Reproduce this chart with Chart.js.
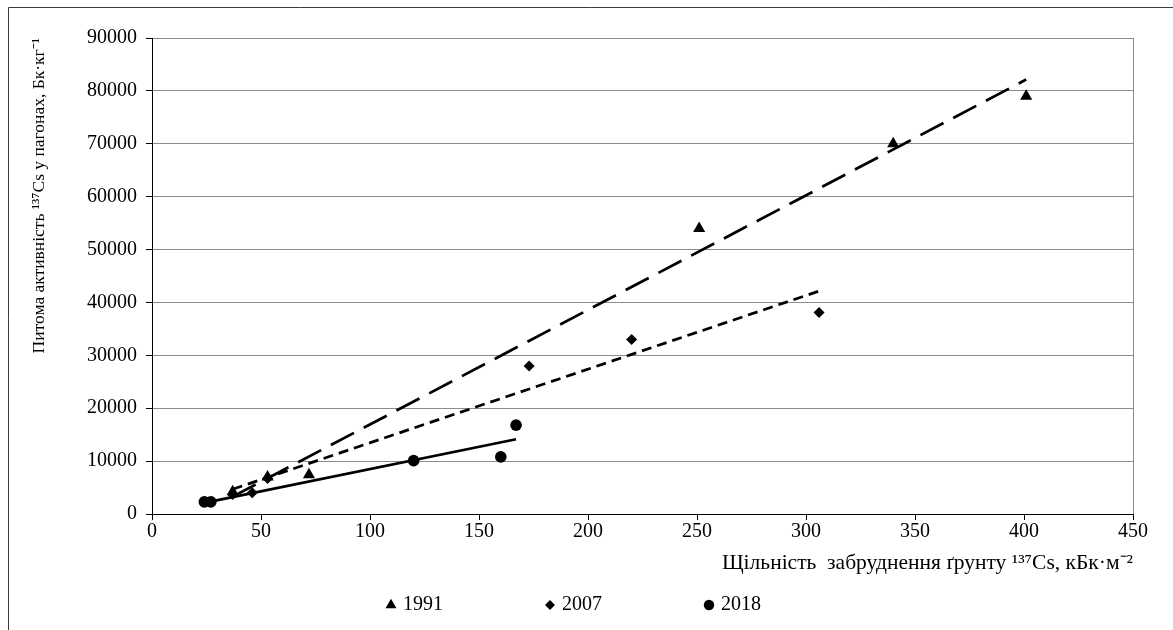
<!DOCTYPE html>
<html>
<head>
<meta charset="utf-8">
<script src="https://cdn.jsdelivr.net/npm/chart.js@4/dist/chart.umd.min.js"></script>
<style>
  html, body { margin: 0; padding: 0; background: #fff; }
  #wrap { width: 1173px; height: 630px; position: relative; }
</style>
</head>
<body>
<div id="wrap"><canvas id="chart" width="1173" height="630"></canvas></div>
<script>
// Soil contamination density with 137Cs (kBq/m2) against specific activity in shoots (Bq/kg)
const years = ['1991', '2007', '2018'];

const density1991  = [37, 53, 72, 251, 340, 401];
const activity1991 = [4200, 7000, 7400, 54000, 70000, 79000];

const density2007  = [37, 46, 53, 173, 220, 306];
const activity2007 = [3700, 4000, 6700, 28000, 33000, 38100];

const density2018  = [24, 27, 120, 160, 167];
const activity2018 = [2300, 2300, 10100, 10800, 16800];

const xTickValues = [0, 50, 100, 150, 200, 250, 300, 350, 400, 450];
const yTickValues = [0, 10000, 20000, 30000, 40000, 50000, 60000, 70000, 80000, 90000];

const yTitle = 'Питома активність ¹³⁷Cs у пагонах, Бк·кг⁻¹';
const xTitle = 'Щільність  забруднення ґрунту ¹³⁷Cs, кБк·м⁻²';

const FONT = "'Liberation Serif', 'Times New Roman', serif";

// least-squares line across the range of a series
function linearTrend(xs, ys) {
  const n = xs.length;
  const mx = xs.reduce((a, b) => a + b, 0) / n;
  const my = ys.reduce((a, b) => a + b, 0) / n;
  let sxx = 0, sxy = 0;
  for (let i = 0; i < n; i++) {
    sxx += (xs[i] - mx) * (xs[i] - mx);
    sxy += (xs[i] - mx) * (ys[i] - my);
  }
  const slope = sxy / sxx;
  const icpt = my - slope * mx;
  const x0 = Math.min(...xs), x1 = Math.max(...xs);
  return [{ x: x0, y: icpt + slope * x0 }, { x: x1, y: icpt + slope * x1 }];
}

const toPoints = (xs, ys) => xs.map((x, i) => ({ x, y: ys[i] }));

// marker images for the legend row; the marker sits at the right edge, next to its label
function legendIcon(style, radius) {
  const cv = document.createElement('canvas');
  cv.width = 70; cv.height = 20;
  const g = cv.getContext('2d');
  g.fillStyle = '#000';
  g.strokeStyle = '#000';
  Chart.helpers.drawPoint(g, { pointStyle: style, radius: radius, rotation: 0, borderWidth: 0 }, 64, 10);
  return cv;
}

const markerStyles = ['triangle', 'rectRot', 'circle'];
const markerRadius = [7, 5.5, 5.8];
const legendIcons = markerStyles.map((s, i) => legendIcon(s, markerRadius[i] * 0.9));

const series = [
  { xs: density1991, ys: activity1991 },
  { xs: density2007, ys: activity2007 },
  { xs: density2018, ys: activity2018 }
];
const trendDash = [[26, 11], [10, 6], []];

const datasets = [];
series.forEach((s, i) => {
  datasets.push({
    label: years[i],
    data: toPoints(s.xs, s.ys),
    pointStyle: markerStyles[i],
    pointRadius: markerRadius[i],
    pointHoverRadius: markerRadius[i],
    pointBackgroundColor: '#000',
    pointBorderColor: '#000',
    pointBorderWidth: 0,
    backgroundColor: '#000',
    borderColor: '#000',
    showLine: false
  });
});
series.forEach((s, i) => {
  datasets.push({
    label: 'trend ' + years[i],
    data: linearTrend(s.xs, s.ys),
    showLine: true,
    borderColor: '#000',
    borderWidth: 2.75,
    borderDash: trendDash[i],
    borderCapStyle: 'butt',
    pointRadius: 0,
    pointHoverRadius: 0,
    fill: false
  });
});

const framePlugin = {
  id: 'frame',
  beforeDraw(chart) {
    const c = chart.ctx;
    c.save();
    c.fillStyle = '#fff';
    c.fillRect(0, 0, chart.width, chart.height);
    c.strokeStyle = '#3c3c3c';
    c.lineWidth = 1;
    c.beginPath();
    c.moveTo(8.5, chart.height);
    c.lineTo(8.5, 7.5);
    c.lineTo(chart.width, 7.5);
    c.stroke();
    c.restore();
  }
};

new Chart(document.getElementById('chart'), {
  type: 'scatter',
  data: { datasets },
  plugins: [framePlugin],
  options: {
    responsive: false,
    animation: false,
    events: [],
    layout: { padding: { left: -41, right: 40, top: 38, bottom: 5 } },
    plugins: {
      tooltip: { enabled: false },
      legend: {
        position: 'bottom',
        labels: {
          usePointStyle: true,
          pointStyleWidth: 62,
          boxHeight: 10,
          padding: 47,
          color: '#000',
          font: { family: FONT, size: 20 },
          filter: item => item.datasetIndex < series.length,
          generateLabels(chart) {
            const items = Chart.defaults.plugins.legend.labels.generateLabels(chart);
            items.forEach(it => {
              if (it.datasetIndex < series.length) it.pointStyle = legendIcons[it.datasetIndex];
            });
            return items;
          }
        }
      }
    },
    scales: {
      x: {
        type: 'linear',
        min: xTickValues[0],
        max: xTickValues[xTickValues.length - 1],
        afterBuildTicks(scale) { scale.ticks = xTickValues.map(v => ({ value: v })); },
        afterFit(scale) { scale.height = 34; },
        border: { color: '#000', width: 1 },
        grid: {
          drawOnChartArea: true,
          color: ctx => (ctx.tick && ctx.tick.value === xTickValues[xTickValues.length - 1]) ? '#8c8c8c' : 'rgba(0,0,0,0)',
          tickColor: '#000',
          tickLength: 6,
          lineWidth: 1
        },
        ticks: {
          color: '#000',
          padding: 0,
          maxRotation: 0,
          autoSkip: false,
          font: { family: FONT, size: 20 },
          callback: v => String(v)
        },
        title: {
          display: true,
          text: xTitle,
          align: 'end',
          color: '#000',
          font: { family: FONT, size: 21.5 },
          padding: { top: 0, bottom: -28 }
        }
      },
      y: {
        type: 'linear',
        min: yTickValues[0],
        max: yTickValues[yTickValues.length - 1],
        afterBuildTicks(scale) { scale.ticks = yTickValues.map(v => ({ value: v })); },
        afterFit(scale) { scale.width = 193; },
        border: { color: '#000', width: 1 },
        grid: {
          color: ctx => (ctx.tick && ctx.tick.value === yTickValues[0]) ? 'rgba(0,0,0,0)' : '#8c8c8c',
          tickColor: '#000',
          tickLength: 6,
          lineWidth: 1
        },
        ticks: {
          color: '#000',
          padding: 9,
          font: { family: FONT, size: 20 },
          callback: v => String(v)
        },
        title: {
          display: true,
          text: yTitle,
          align: 'end',
          color: '#000',
          font: { family: FONT, size: 17.5 },
          padding: { top: 70, bottom: 0 }
        }
      }
    }
  }
});
</script>
</body>
</html>
